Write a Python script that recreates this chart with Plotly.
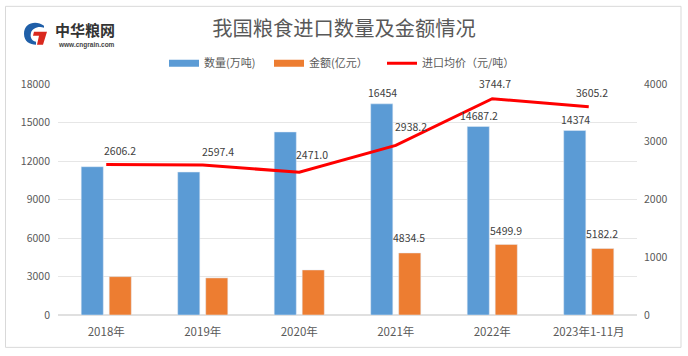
import plotly.graph_objects as go

categories = ["2018年", "2019年", "2020年", "2021年", "2022年", "2023年1-11月"]
quantity = [11555, 11140, 14262, 16454, 14687.2, 14374]
amount = [2990, 2890, 3510, 4834.5, 5499.9, 5182.2]
price = [2606.2, 2597.4, 2471.0, 2938.2, 3744.7, 3605.2]
quantity_labels = [None, None, None, "16454", "14687.2", "14374"]
amount_labels = [None, None, None, "4834.5", "5499.9", "5182.2"]
price_labels = ["2606.2", "2597.4", "2471.0", "2938.2", "3744.7", "3605.2"]
price_offsets = [(14, 14), (15, 14), (13, 18), (15, 19), (3, 15), (3, 14)]
amount_offsets = [None, None, None, (13, 15), (14, 14), (13, 15)]

W, H = 688, 356
L, R, T, B = 58, 637, 83.5, 315.5
GRAY = "#595959"
FONT = "Noto Sans CJK SC"

def px(x):
    return (x - L) / (R - L)

def py(y):
    return (B - y) / (B - T)

fig = go.Figure()
fig.add_bar(name="数量(万吨)", x=categories, y=quantity, marker_color="#5B9BD5", offsetgroup="a", showlegend=False)
fig.add_bar(name="金额(亿元）", x=categories, y=amount, marker_color="#ED7D31", offsetgroup="b", showlegend=False)
fig.add_scatter(name="数量(万吨)", x=[None], y=[None], mode="lines", line=dict(color="#5B9BD5", width=7), legend="legend")
fig.add_scatter(name="金额(亿元）", x=[None], y=[None], mode="lines", line=dict(color="#ED7D31", width=7), legend="legend2")
fig.add_scatter(name="进口均价（元/吨）", x=categories, y=price, yaxis="y2", mode="lines",
                line=dict(color="#FF0000", width=3), legend="legend3")

ann = []
lab = dict(showarrow=False, font=dict(family=FONT, size=10.5, color="#404040"))
for c, q, t in zip(categories, quantity, quantity_labels):
    if t:
        ann.append(dict(x=c, y=q, text=t, xref="x", yref="y", xshift=-13, yshift=11, **lab))
for c, a, t, o in zip(categories, amount, amount_labels, amount_offsets):
    if t:
        ann.append(dict(x=c, y=a, text=t, xref="x", yref="y", xshift=o[0], yshift=o[1], **lab))
for c, p, t, (dx, dy) in zip(categories, price, price_labels, price_offsets):
    ann.append(dict(x=c, y=p, text=t, xref="x", yref="y2", xshift=dx, yshift=dy, **lab))

ann.append(dict(x=px(85), y=py(29), xref="paper", yref="paper", text="<b>中华粮网</b>", showarrow=False,
                xanchor="center", yanchor="middle", font=dict(family=FONT, size=15, color="#333333")))
ann.append(dict(x=px(86), y=py(44.5), xref="paper", yref="paper", text="<b>www.cngrain.com</b>", showarrow=False,
                xanchor="center", yanchor="middle", font=dict(family="Liberation Sans", size=6.5, color="#444444")))

logo_blue = ("M 44 25 C 36 19 24 22 24 33 C 24 41 30 44 36 44 L 36 41 C 31 40 30 36 31 32 "
             "C 32 28 38 25 44 27 Z")
logo_red = "M 34 31 L 47 31 L 43 44 L 37 44 L 39 35 L 33 35 Z"

def path(d):
    out = []
    toks = d.split()
    i = 0
    while i < len(toks):
        if toks[i].isalpha():
            out.append(toks[i]); i += 1
        else:
            out.append(f"{px(float(toks[i])):.5f},{py(float(toks[i+1])):.5f}"); i += 2
    return " ".join(out)

shapes = [
    dict(type="rect", xref="paper", yref="paper", x0=px(5.5), x1=px(681), y0=py(5.5), y1=py(348),
         line=dict(color="#D9D9D9", width=1), fillcolor="rgba(0,0,0,0)", layer="below"),
    dict(type="path", xref="paper", yref="paper", path=path(logo_blue), fillcolor="#1F5FA8", line_width=0),
    dict(type="path", xref="paper", yref="paper", path=path(logo_red), fillcolor="#D9281E", line_width=0),
]

def legend_at(x):
    return dict(orientation="h", x=px(x), xanchor="left", y=py(48), yanchor="top",
                font=dict(size=11, color=GRAY), bgcolor="rgba(0,0,0,0)", itemwidth=30)

fig.update_layout(
    width=W, height=H, autosize=False,
    margin=dict(l=L, r=W - R, t=T, b=H - B, pad=0),
    paper_bgcolor="white", plot_bgcolor="white",
    font=dict(family=FONT, size=11, color=GRAY),
    title=dict(text="我国粮食进口数量及金额情况", x=0.5, xref="container", xanchor="center",
               y=1 - 29 / H, yanchor="middle",
               font=dict(family=FONT, size=20.3, color=GRAY)),
    barmode="group", bargap=0.42, bargroupgap=0.21,
    xaxis=dict(type="category", categoryorder="array", categoryarray=categories, showgrid=False,
               showline=False, ticks="", tickfont=dict(size=11.5, color=GRAY), ticklabelstandoff=8),
    yaxis=dict(range=[0, 18000], tickvals=[0, 3000, 6000, 9000, 12000, 15000, 18000], tickformat="d",
               showgrid=True, gridcolor="#E6E6E6", gridwidth=1, zeroline=True, zerolinecolor="#E0E0E0",
               ticks="", showline=False, tickfont=dict(size=10.5, color=GRAY), ticklabelstandoff=7),
    yaxis2=dict(range=[0, 4000], tickvals=[0, 1000, 2000, 3000, 4000], tickformat="d", overlaying="y",
                side="right", showgrid=False, zeroline=False, ticks="", showline=False,
                tickfont=dict(size=10.5, color=GRAY), ticklabelstandoff=6),
    legend=legend_at(164), legend2=legend_at(269), legend3=legend_at(382),
    annotations=ann, shapes=shapes, showlegend=True,
)
fig.write_html("out.html", post_script="document.body.style.margin='0';",
               config=dict(displayModeBar=False))
